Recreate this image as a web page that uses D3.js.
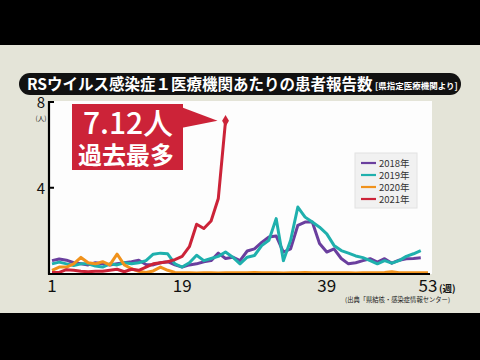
<!DOCTYPE html>
<html>
<head>
<meta charset="utf-8">
<script src="https://cdn.jsdelivr.net/npm/d3@7"></script>
<style>
  body { margin: 0; background: #000; }
  svg { display: block; font-family: "Noto Sans CJK JP", "Noto Sans", sans-serif; }
</style>
</head>
<body>
<div class="chart"></div>
<script>
// weekly reports per medical institution
var y2018 = [0.6, 0.68, 0.62, 0.5, 0.45, 0.4, 0.5, 0.45, 0.4, 0.45, 0.5, 0.55, 0.62, 0.42, 0.4,
             0.5, 0.55, 0.4, 0.3, 0.4, 0.45, 0.55, 0.6, 0.95, 0.7, 0.76, 0.6, 1.05, 1.15, 1.45,
             1.7, 1.75, 1.0, 1.15, 2.25, 2.4, 2.4, 1.4, 1.0, 1.15, 0.7, 0.45, 0.5, 0.6, 0.69,
             0.53, 0.69, 0.48, 0.62, 0.69, 0.7, 0.73];
var y2019 = [0.45, 0.53, 0.45, 0.37, 0.45, 0.45, 0.35, 0.3, 0.45, 0.4, 0.5, 0.45, 0.5, 0.6, 0.9,
             0.95, 0.92, 0.45, 0.3, 0.5, 0.85, 0.6, 0.7, 0.8, 1.0, 0.76, 0.45, 0.76, 0.84, 1.3,
             1.55, 2.56, 0.6, 1.55, 3.1, 2.63, 2.4, 2.16, 1.85, 1.31, 1.07, 0.95, 0.82, 0.74, 0.6,
             0.45, 0.6, 0.48, 0.6, 0.8, 0.92, 1.07];
var y2020 = [0.15, 0.3, 0.3, 0.45, 0.75, 0.5, 0.45, 0.55, 0.4, 0.9, 0.4, 0.22, 0.1, 0.05, 0.12,
             0.3, 0.15, 0.05, 0.03, 0.03, 0.02, 0.03, 0.03, 0.02, 0.03, 0.04, 0.03, 0.03, 0.05, 0.04,
             0.03, 0.03, 0.02, 0.03, 0.04, 0.05, 0.04, 0.03, 0.03, 0.04, 0.03, 0.03, 0.02, 0.03, 0.04,
             0.03, 0.05, 0.08, 0.04, 0.03, 0.04, 0.03, 0.03];
var y2021 = [0.05, 0.05, 0.18, 0.15, 0.1, 0.08, 0.1, 0.1, 0.15, 0.2, 0.08, 0.2, 0.15, 0.3, 0.45,
             0.5, 0.55, 0.65, 0.8, 1.25, 2.3, 2.1, 2.45, 3.5, 7.12];

var seriesNames = ["2018年", "2019年", "2020年", "2021年"];
var seriesColors = ["#6a3f9e", "#1fb0ad", "#f0921c", "#cc2338"];
var xTicks = [1, 19, 39, 53];
var yTicks = [4, 8];

var W = 480, H = 360;

var svg = d3.select(".chart").append("svg")
            .attr("width", W)
            .attr("height", H);

// beige panel between the letterbox bars
svg.append("rect").attr("x", 0).attr("y", 45).attr("width", W).attr("height", 268)
   .attr("fill", "#e4e4d8");

// title pill
svg.append("rect")
   .attr("x", 19).attr("y", 73).attr("width", 442).attr("height", 22)
   .attr("rx", 11).attr("fill", "#111");
svg.append("text")
   .attr("x", 27).attr("y", 90)
   .attr("fill", "#fff")
   .attr("font-size", 15.5).attr("font-weight", 700)
   .text("RSウイルス感染症１医療機関あたりの患者報告数");
svg.append("text")
   .attr("x", 375).attr("y", 88.5)
   .attr("fill", "#fff")
   .attr("font-size", 8.5).attr("font-weight", 700)
   .text("[県指定医療機関より]");

var x = d3.scaleLinear().domain([1, 53]).range([52, 428]);
var y = d3.scaleLinear().domain([0, 8]).range([273.5, 102]);

// white plotting panel
svg.append("rect").attr("x", 49).attr("y", 101).attr("width", 383).attr("height", 173)
   .attr("fill", "#fdfdfd");

// legend
var legend = svg.append("g").attr("transform", "translate(355,153)");
legend.append("rect").attr("width", 62).attr("height", 55)
      .attr("fill", "#f1f1f1").attr("stroke", "#e2e2e2");
legend.selectAll(".item")
      .data(seriesNames)
      .enter()
      .append("g")
      .attr("class", "item")
      .attr("transform", function(d, i) { return "translate(0," + (10 + i * 12) + ")"; })
      .each(function(d, i) {
          var g = d3.select(this);
          g.append("line").attr("x1", 6).attr("x2", 21).attr("y1", 0).attr("y2", 0)
           .attr("stroke", seriesColors[i]).attr("stroke-width", 2.2);
          g.append("text").attr("x", 24).attr("y", 3.5)
           .attr("font-size", 9.5).attr("fill", "#333").text(d);
      });

// lines
var line = d3.line()
             .x(function(d, i) { return x(i + 1); })
             .y(function(d) { return y(d); })
             .curve(d3.curveLinear);

var allSeries = [y2018, y2019, y2020, y2021];
svg.selectAll(".series")
   .data(allSeries)
   .enter()
   .append("path")
   .attr("class", "series")
   .attr("fill", "none")
   .attr("stroke", function(d, i) { return seriesColors[i]; })
   .attr("stroke-width", 3)
   .attr("stroke-linejoin", "round")
   .attr("d", line);

// peak marker
var peakWeek = y2021.length, peak = y2021[y2021.length - 1];
svg.append("path")
   .attr("d", d3.symbol().type(d3.symbolDiamond).size(40))
   .attr("transform", "translate(" + x(peakWeek) + "," + y(peak) + ")")
   .attr("fill", seriesColors[3]);

// axes
svg.append("line").attr("x1", 49).attr("x2", 49).attr("y1", 101).attr("y2", 274.5)
   .attr("stroke", "#000").attr("stroke-width", 2.2);
svg.append("line").attr("x1", 48).attr("x2", 430).attr("y1", 274).attr("y2", 274)
   .attr("stroke", "#000").attr("stroke-width", 2.2);
svg.selectAll(".ytick")
   .data(yTicks)
   .enter()
   .append("line")
   .attr("x1", 49).attr("x2", 54)
   .attr("y1", function(d) { return y(d); }).attr("y2", function(d) { return y(d); })
   .attr("stroke", "#000").attr("stroke-width", 2);
svg.selectAll(".ylab")
   .data(yTicks)
   .enter()
   .append("text")
   .attr("x", 41).attr("y", function(d) { return y(d) + 6; })
   .attr("text-anchor", "middle")
   .attr("font-size", 15).attr("fill", "#111")
   .text(function(d) { return d; });
svg.append("text").attr("x", 41).attr("y", 121).attr("text-anchor", "middle")
   .attr("font-size", 6.5).attr("fill", "#111").text("(人)");

svg.selectAll(".xlab")
   .data(xTicks)
   .enter()
   .append("text")
   .attr("x", function(d) { return x(d); }).attr("y", 292)
   .attr("text-anchor", "middle")
   .attr("font-size", 17).attr("fill", "#111")
   .text(function(d) { return d; });
svg.append("text").attr("x", 439).attr("y", 292)
   .attr("font-size", 9.5).attr("font-weight", 700).attr("fill", "#111").text("(週)");
svg.append("text").attr("x", 345).attr("y", 302)
   .attr("font-size", 6.3).attr("fill", "#222")
   .text("(出典「県結核・感染症情報センター)");

// callout
var callout = svg.append("g");
callout.append("path")
       .attr("d", "M181,107 L" + (x(peakWeek) - 8) + "," + y(peak) + " L181,128 Z")
       .attr("fill", "#cc2338");
callout.append("rect").attr("x", 72).attr("y", 104).attr("width", 111).attr("height", 66)
       .attr("fill", "#cc2338");
callout.append("text").attr("x", 128).attr("y", 134).attr("text-anchor", "middle")
       .attr("fill", "#fff").attr("font-size", 30).attr("font-weight", 500)
       .text("7.12人");
callout.append("text").attr("x", 126).attr("y", 164).attr("text-anchor", "middle")
       .attr("fill", "#fff").attr("font-size", 24).attr("font-weight", 700)
       .text("過去最多");
</script>
</body>
</html>
